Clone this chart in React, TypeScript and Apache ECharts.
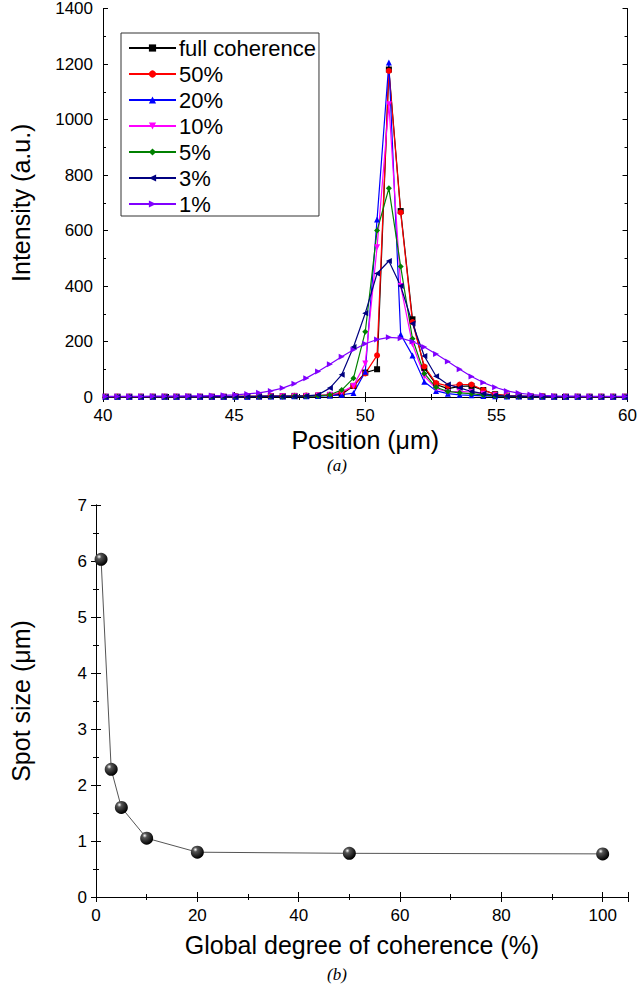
import React, { useEffect, useRef } from "react";
import * as echarts from "echarts";

// Panel (a): intensity profiles vs position (µm)
const positions = [
  40.1, 40.55, 41.0, 41.45, 41.9, 42.35, 42.8, 43.25, 43.7, 44.15, 44.6, 45.05, 45.5, 45.95, 46.4,
  46.85, 47.3, 47.75, 48.2, 48.65, 49.1, 49.55, 50.0, 50.45, 50.9, 51.35, 51.8, 52.25, 52.7, 53.15,
  53.6, 54.05, 54.5, 54.95, 55.4, 55.85, 56.3, 56.75, 57.2, 57.65, 58.1, 58.55, 59.0, 59.45, 59.9,
];
const fullCoherence = [
  1, 1, 1, 1, 1, 1, 1, 1, 1, 1, 1, 2, 2, 2, 3, 3, 4, 4, 5, 6, 10, 40, 88, 100, 1180, 670, 280, 105, 45, 30,
  38, 40, 25, 10, 5, 3, 2, 2, 1, 1, 1, 1, 1, 1, 1,
];
const coh50 = [
  1, 1, 1, 1, 1, 1, 1, 1, 1, 1, 1, 2, 2, 2, 3, 3, 4, 5, 6, 8, 15, 40, 85, 150, 1175, 665, 270, 110, 50, 40,
  45, 45, 25, 10, 5, 3, 2, 2, 1, 1, 1, 1, 1, 1, 1,
];
const coh20 = [
  1, 1, 1, 1, 1, 1, 1, 1, 1, 1, 1, 1, 1, 2, 2, 2, 3, 3, 4, 5, 8, 14, 91, 640, 1205, 225, 150, 55, 22, 12,
  8, 6, 4, 3, 2, 2, 1, 1, 1, 1, 1, 1, 1, 1, 1,
];
const coh10 = [
  1, 1, 1, 1, 1, 1, 1, 1, 1, 1, 1, 1, 2, 2, 2, 3, 3, 4, 5, 8, 18, 40, 121, 540, 1055, 400, 190, 75, 30, 18,
  20, 18, 12, 6, 3, 2, 2, 1, 1, 1, 1, 1, 1, 1, 1,
];
const coh5 = [
  1, 1, 1, 1, 1, 1, 1, 1, 1, 1, 1, 1, 2, 2, 2, 2, 3, 3, 4, 8, 25, 68, 235, 600, 752, 470, 210, 85, 35, 20,
  15, 12, 7, 4, 2, 2, 1, 1, 1, 1, 1, 1, 1, 1, 1,
];
const coh3 = [
  1, 1, 1, 1, 1, 1, 1, 1, 1, 1, 1, 1, 1, 2, 2, 2, 2, 4, 8, 32, 80, 180, 302, 445, 490, 400, 265, 148, 75, 45,
  33, 20, 12, 6, 3, 2, 2, 1, 1, 1, 1, 1, 1, 1, 1,
];
const coh1 = [
  2, 2, 2, 2, 3, 3, 3, 4, 4, 5, 6, 8, 11, 15, 22, 32, 48, 68, 92, 118, 145, 170, 192, 207, 215, 212, 200, 180,
  155, 128, 100, 74, 52, 35, 22, 14, 9, 6, 4, 3, 3, 2, 2, 2, 2,
];

const seriesNames = ["full coherence", "50%", "20%", "10%", "5%", "3%", "1%"];
const seriesValues = [fullCoherence, coh50, coh20, coh10, coh5, coh3, coh1];
const seriesColors = ["#000000", "#ff0000", "#0000ff", "#ff00ff", "#008000", "#000080", "#8000ff"];
const seriesSymbols = ["rect", "circle", "triangle", "triangle", "diamond", "triangle", "triangle"];
const seriesRotate = [0, 0, 0, 180, 0, 90, -90];

// Panel (b): spot size vs global degree of coherence
const coherenceDegree = [1, 3, 5, 10, 20, 50, 100];
const spotSize = [6.03, 2.28, 1.6, 1.05, 0.8, 0.78, 0.77];

const FONT = "Liberation Sans, Arial, sans-serif";

export default function App() {
  const ref = useRef<HTMLDivElement>(null);

  useEffect(() => {
    if (!ref.current) return;
    const chart = echarts.init(ref.current, undefined, { renderer: "svg" });

    const axisLine = { show: true, lineStyle: { color: "#000", width: 1 } };
    const tick = { show: true, inside: true, length: 5, lineStyle: { color: "#000" } };
    const minor = { show: true, splitNumber: 2, length: 3, lineStyle: { color: "#000" } };
    const label = { color: "#000", fontSize: 17, fontFamily: FONT, formatter: (v: number) => String(v) };
    const nameStyle = { color: "#000", fontSize: 25, fontFamily: FONT };

    const topSeries = seriesNames.map((name, k) => ({
      name,
      type: "line",
      xAxisIndex: 0,
      yAxisIndex: 0,
      data: positions.map((x, i) => [x, seriesValues[k][i]]),
      symbol: seriesSymbols[k],
      symbolSize: 6,
      symbolRotate: seriesRotate[k],
      showSymbol: true,
      lineStyle: { color: seriesColors[k], width: 1.2 },
      itemStyle: { color: seriesColors[k] },
      emphasis: { disabled: true },
    }));

    const sphere = new echarts.graphic.RadialGradient(0.35, 0.3, 0.7, [
      { offset: 0, color: "#ffffff" },
      { offset: 0.25, color: "#555555" },
      { offset: 1, color: "#000000" },
    ]);

    chart.setOption({
      animation: false,
      grid: [
        { left: 96, right: 9, top: 8, height: 389 },
        { left: 94, right: 12, top: 505, height: 392 },
      ],
      legend: {
        show: true,
        orient: "vertical",
        left: 121,
        top: 33,
        data: seriesNames,
        itemWidth: 47,
        itemHeight: 9,
        itemGap: 4,
        padding: [4, 3, 1, 7],
        borderColor: "#333",
        borderWidth: 1,
        backgroundColor: "#fff",
        textStyle: { color: "#000", fontSize: 22, fontFamily: FONT, lineHeight: 22, padding: [0, 0, 0, -2] },
      },
      xAxis: [
        {
          type: "value", gridIndex: 0, min: 40, max: 60, interval: 5,
          name: "Position (μm)", nameLocation: "middle", nameGap: 30, nameTextStyle: nameStyle,
          axisLine, axisTick: tick, minorTick: minor, splitLine: { show: false },
          axisLabel: { ...label, margin: 10 },
        },
        {
          type: "value", gridIndex: 0, min: 40, max: 60, interval: 5, position: "top",
          axisLine, axisTick: tick, minorTick: minor, splitLine: { show: false },
          axisLabel: { show: false },
        },
        {
          type: "value", gridIndex: 1, min: 0, max: 105, interval: 20,
          name: "Global degree of coherence (%)", nameLocation: "middle", nameGap: 35, nameTextStyle: nameStyle,
          axisLine, axisTick: tick, minorTick: minor, splitLine: { show: false },
          axisLabel: { ...label, margin: 10, showMaxLabel: false },
        },
        {
          type: "value", gridIndex: 1, min: 0, max: 105, interval: 20, position: "top",
          axisLine, axisTick: tick, minorTick: minor, splitLine: { show: false },
          axisLabel: { show: false },
        },
      ],
      yAxis: [
        {
          type: "value", gridIndex: 0, min: 0, max: 1400, interval: 200,
          name: "Intensity (a.u.)", nameLocation: "middle", nameGap: 70, nameTextStyle: nameStyle,
          axisLine, axisTick: tick, minorTick: minor, splitLine: { show: false },
          axisLabel: { ...label, margin: 10 },
        },
        {
          type: "value", gridIndex: 0, min: 0, max: 1400, interval: 200, position: "right",
          axisLine, axisTick: tick, minorTick: minor, splitLine: { show: false },
          axisLabel: { show: false },
        },
        {
          type: "value", gridIndex: 1, min: 0, max: 7, interval: 1,
          name: "Spot size (μm)", nameLocation: "middle", nameGap: 63, nameTextStyle: nameStyle,
          axisLine, axisTick: tick, minorTick: minor, splitLine: { show: false },
          axisLabel: { ...label, margin: 9 },
        },
        {
          type: "value", gridIndex: 1, min: 0, max: 7, interval: 1, position: "right",
          axisLine, axisTick: tick, minorTick: minor, splitLine: { show: false },
          axisLabel: { show: false },
        },
      ],
      series: [
        ...topSeries,
        {
          name: "spot size",
          type: "line",
          xAxisIndex: 2,
          yAxisIndex: 2,
          data: coherenceDegree.map((x, i) => [x, spotSize[i]]),
          symbol: "circle",
          symbolSize: 13,
          lineStyle: { color: "#555", width: 1 },
          itemStyle: { color: sphere },
          emphasis: { disabled: true },
        },
      ],
      graphic: [
        {
          type: "text", left: 327, top: 457,
          style: { text: "(a)", fontSize: 17, fontStyle: "italic", fontFamily: "Liberation Serif, Times New Roman, serif", fill: "#000" },
        },
        {
          type: "text", left: 327, top: 966,
          style: { text: "(b)", fontSize: 17, fontStyle: "italic", fontFamily: "Liberation Serif, Times New Roman, serif", fill: "#000" },
        },
      ],
    });

    return () => chart.dispose();
  }, []);

  return (
    <div
      ref={ref}
      style={{ position: "fixed", left: 0, top: 0, width: 640, height: 989, background: "#fff" }}
    />
  );
}
